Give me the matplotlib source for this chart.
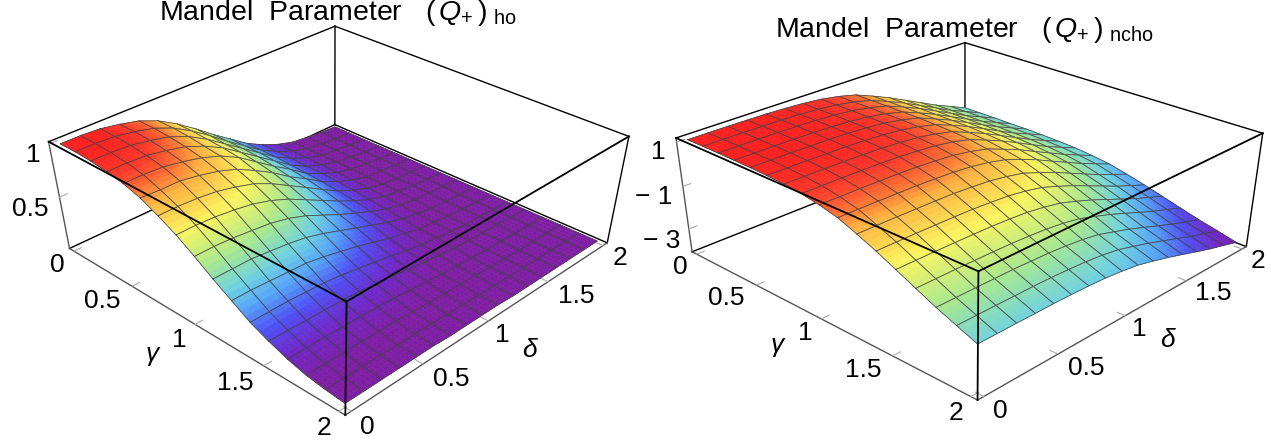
# Mandel parameter surfaces for the two oscillators
import numpy as np
import matplotlib
matplotlib.use("Agg")
import matplotlib.pyplot as plt
from matplotlib.colors import LinearSegmentedColormap

plt.rcParams['font.family'] = ['Liberation Sans', 'DejaVu Sans']
plt.rcParams['mathtext.fontset'] = 'custom'
plt.rcParams['mathtext.rm'] = 'Liberation Sans'
plt.rcParams['mathtext.it'] = 'Liberation Sans:italic'

W, H = 1271, 445

# grid nodes, same for both surfaces
gamma = [0, 0.125, 0.25, 0.375, 0.5, 0.625, 0.75, 0.875, 1, 1.125, 1.25, 1.375, 1.5, 1.625, 1.75, 1.875, 2]
delta = [0, 0.125, 0.25, 0.375, 0.5, 0.625, 0.75, 0.875, 1, 1.125, 1.25, 1.375, 1.5, 1.625, 1.75, 1.875, 2]

# rows follow gamma, columns follow delta
q_ho = [
    [1.00, 1.00, .99, .96, .92, .85, .75, .63, .50, .38, .26, .17, .10, .05, .03, .01, 0],
    [1.00, 1.00, .99, .96, .92, .85, .75, .63, .50, .38, .26, .17, .10, .05, .03, .01, 0],
    [.99, .99, .98, .95, .91, .84, .74, .62, .50, .38, .26, .17, .10, .05, .03, .01, 0],
    [.97, .97, .96, .93, .89, .82, .73, .61, .49, .37, .25, .16, .10, .05, .03, .01, 0],
    [.94, .94, .93, .90, .86, .80, .71, .59, .47, .36, .24, .16, .09, .05, .03, .01, 0],
    [.89, .88, .88, .85, .81, .75, .66, .56, .44, .34, .23, .15, .09, .04, .03, .01, 0],
    [.81, .81, .80, .78, .74, .69, .61, .51, .41, .31, .21, .14, .08, .04, .02, .01, 0],
    [.72, .72, .71, .69, .66, .61, .54, .45, .36, .27, .19, .12, .07, .04, .02, .01, 0],
    [.61, .61, .60, .58, .56, .52, .46, .38, .30, .23, .16, .10, .06, .03, .02, .01, 0],
    [.49, .49, .49, .47, .45, .42, .37, .31, .25, .19, .13, .08, .05, .02, .01, 0, 0],
    [.38, .38, .37, .36, .35, .32, .28, .24, .19, .14, .10, .06, .04, .02, .01, 0, 0],
    [.27, .27, .27, .26, .25, .23, .20, .17, .14, .10, .07, .05, .03, .01, .01, 0, 0],
    [.19, .19, .18, .18, .17, .16, .14, .12, .09, .07, .05, .03, .02, .01, .01, 0, 0],
    [.12, .12, .12, .11, .11, .10, .09, .07, .06, .04, .03, .02, .01, .01, 0, 0, 0],
    [.07, .07, .07, .07, .06, .06, .05, .04, .03, .03, .02, .01, .01, 0, 0, 0, 0],
    [.04, .04, .04, .04, .03, .03, .03, .02, .02, .01, .01, .01, 0, 0, 0, 0, 0],
    [.02, .02, .02, .02, .02, .02, .01, .01, .01, .01, 0, 0, 0, 0, 0, 0, 0],
]

q_ncho = [
    [1.10, 1.10, 1.10, 1.09, 1.08, 1.05, 1.00, .92, .78, .58, .25, -.10, -.50, -.90, -1.30, -1.65, -2.00],
    [1.10, 1.10, 1.10, 1.09, 1.08, 1.05, 1.00, .92, .78, .58, .25, -.10, -.50, -.90, -1.30, -1.65, -2.00],
    [1.10, 1.10, 1.10, 1.09, 1.08, 1.05, 1.00, .92, .78, .58, .25, -.10, -.50, -.90, -1.30, -1.65, -2.00],
    [1.09, 1.09, 1.09, 1.08, 1.07, 1.04, .99, .91, .77, .57, .24, -.11, -.51, -.91, -1.31, -1.66, -2.01],
    [1.08, 1.08, 1.08, 1.07, 1.06, 1.03, .98, .90, .76, .56, .23, -.12, -.52, -.92, -1.31, -1.66, -2.01],
    [1.05, 1.05, 1.05, 1.04, 1.03, 1.00, .95, .87, .73, .53, .21, -.14, -.54, -.94, -1.34, -1.68, -2.03],
    [1.00, 1.00, 1.00, .99, .98, .95, .90, .82, .68, .49, .16, -.19, -.58, -.98, -1.37, -1.72, -2.06],
    [.92, .92, .92, .91, .90, .87, .82, .74, .61, .41, .09, -.25, -.64, -1.04, -1.43, -1.77, -2.11],
    [.78, .78, .78, .77, .76, .73, .68, .61, .47, .28, -.04, -.37, -.76, -1.14, -1.52, -1.86, -2.20],
    [.58, .58, .58, .57, .56, .53, .49, .41, .28, .09, -.21, -.54, -.92, -1.29, -1.66, -1.99, -2.32],
    [.25, .25, .25, .24, .23, .21, .16, .09, -.04, -.21, -.51, -.82, -1.18, -1.54, -1.90, -2.21, -2.52],
    [-.10, -.10, -.10, -.11, -.12, -.14, -.19, -.25, -.37, -.54, -.82, -1.12, -1.46, -1.80, -2.14, -2.44, -2.74],
    [-.50, -.50, -.50, -.51, -.52, -.54, -.58, -.64, -.76, -.92, -1.18, -1.46, -1.78, -2.10, -2.42, -2.70, -2.98],
    [-.90, -.90, -.90, -.91, -.92, -.94, -.98, -1.04, -1.14, -1.29, -1.54, -1.80, -2.10, -2.40, -2.70, -2.96, -3.23],
    [-1.30, -1.30, -1.30, -1.31, -1.31, -1.34, -1.37, -1.43, -1.52, -1.66, -1.90, -2.14, -2.42, -2.70, -2.98, -3.23, -3.47],
    [-1.65, -1.65, -1.65, -1.66, -1.66, -1.68, -1.72, -1.77, -1.86, -1.99, -2.21, -2.44, -2.70, -2.96, -3.23, -3.45, -3.68],
    [-2.00, -2.00, -2.00, -2.01, -2.01, -2.03, -2.06, -2.11, -2.20, -2.32, -2.52, -2.74, -2.98, -3.23, -3.47, -3.68, -3.90],
]

xy_ticks = [0, 0.5, 1, 1.5, 2]
xy_tick_labels = ['0', '0.5', '1', '1.5', '2']
z_ticks_ho = [0.5, 1]
z_ticks_ncho = [-3, -1, 1]

rainbow = LinearSegmentedColormap.from_list("rainbow_q", [
    (0.00, "#7E1FA3"), (0.05, "#7E1FA3"), (0.13, "#6F28C8"), (0.22, "#4F50F5"), (0.32, "#55A4FA"),
    (0.42, "#6FD2E0"), (0.55, "#A8E890"), (0.72, "#FBF560"), (0.86, "#FFB340"),
    (0.96, "#FF3A2A"), (1.00, "#FF2020")])


def camera_matrix(ax, corners, xlim, ylim, zlim):
    """Fits the perspective camera of a panel to its 8 box corners (pixels)."""
    x0, x1 = ax.viewLim.intervalx
    y0, y1 = ax.viewLim.intervaly
    rows = []
    for ix, iy, iz, px, py in corners:
        X, Y, Z = xlim[ix], ylim[iy], zlim[iz]
        # the axes is a W x W square centred on the figure
        u = x0 + (x1 - x0) * px / W
        v = y0 + (y1 - y0) * (1 - (py + (W - H) / 2) / W)
        rows.append([X, Y, Z, 1, 0, 0, 0, 0, -u * X, -u * Y, -u * Z, -u])
        rows.append([0, 0, 0, 0, X, Y, Z, 1, -v * X, -v * Y, -v * Z, -v])
    P = np.linalg.svd(np.array(rows))[2][-1].reshape(3, 4)
    P = P / P[2].dot([1, 1, np.mean(zlim), 1])
    return np.array([P[0], P[1], P[2] - [0, 0, 0, 0.5], P[2]])


def draw_surface(ax, z, norm_lo, norm_hi):
    """Draws far cells first, each cell shaded bilinearly between its 4 nodes."""
    z = np.array(z, dtype=float)
    s = np.linspace(0, 1, 5)
    t, u = np.meshgrid(s, s, indexing='ij')
    mid_t, mid_u = np.meshgrid(s + 0.125, s + 0.125, indexing='ij')
    order = 10
    for i in range(len(gamma) - 1):
        for j in range(len(delta) - 2, -1, -1):
            def blend(a, b):
                return ((1 - a) * (1 - b) * z[i, j] + (1 - a) * b * z[i, j + 1]
                        + a * (1 - b) * z[i + 1, j] + a * b * z[i + 1, j + 1])
            gx = gamma[i] + t * (gamma[i + 1] - gamma[i])
            dy = delta[j] + u * (delta[j + 1] - delta[j])
            cols = rainbow((blend(mid_t, mid_u) - norm_lo) / (norm_hi - norm_lo))
            ax.plot_surface(gx, dy, blend(t, u), rstride=1, cstride=1, facecolors=cols,
                            shade=False, linewidth=0.4, zorder=order)
            ax.plot([gamma[i], gamma[i], gamma[i + 1], gamma[i + 1], gamma[i]],
                    [delta[j], delta[j + 1], delta[j + 1], delta[j], delta[j]],
                    [z[i, j], z[i, j + 1], z[i + 1, j + 1], z[i + 1, j], z[i, j]],
                    color='#444444', lw=0.55, zorder=order + 1)
            order += 2
    return order


def draw_box(ax, xlim, ylim, zlim, z_ticks, top):
    """Box edges behind and in front of the surface, plus the tick marks."""
    xa, xb = xlim
    ya, yb = ylim
    za, zb = zlim
    back = [((xa, ya, za), (xa, yb, za)), ((xa, yb, za), (xb, yb, za)),
            ((xa, ya, zb), (xa, yb, zb)), ((xa, yb, zb), (xb, yb, zb)),
            ((xa, yb, za), (xa, yb, zb)), ((xb, yb, za), (xb, yb, zb))]
    front = [((xa, ya, zb), (xb, ya, zb)), ((xb, ya, zb), (xb, yb, zb)),
             ((xb, ya, za), (xb, ya, zb))]
    axes_edges = [((xa, ya, za), (xa, ya, zb)), ((xa, ya, za), (xb, ya, za)),
                  ((xb, ya, za), (xb, yb, za))]
    for a, b in back:
        ax.plot(*zip(a, b), color='black', lw=1.0, zorder=1)
    for a, b in axes_edges:
        ax.plot(*zip(a, b), color='#555555', lw=1.0, zorder=2)
    for a, b in front:
        ax.plot(*zip(a, b), color='black', lw=1.3, zorder=top)
    for v in xy_ticks:
        ax.plot([v, v], [ya, ya + 0.05], [za, za], color='#aaaaaa', lw=0.8, zorder=3)
        ax.plot([xb, xb - 0.05], [v, v], [za, za], color='#aaaaaa', lw=0.8, zorder=3)
    for v in z_ticks:
        ax.plot([xa, xa], [ya, ya + 0.05], [v, v], color='#aaaaaa', lw=0.8, zorder=3)


def put(fig, px, py, text, **kw):
    kw.setdefault('fontsize', 19)
    fig.text(px / W, 1 - py / H, text, ha=kw.pop('ha', 'center'), va=kw.pop('va', 'center'), **kw)


def panel(fig, z, corners, zlim, z_ticks, clim):
    ax = fig.add_axes([0, (H - W) / 2 / H, 1, W / H], projection='3d')
    ax.set_axis_off()
    ax.patch.set_visible(False)
    ax.computed_zorder = False
    # ortho only switches off the clipping of lines; the camera comes from get_proj
    ax.set_proj_type('ortho')
    xlim = ylim = (-0.04, 2.04)
    M = camera_matrix(ax, corners, xlim, ylim, zlim)
    ax.get_proj = lambda: M
    top = draw_surface(ax, z, clim[0], clim[1])
    draw_box(ax, xlim, ylim, zlim, z_ticks, top)
    return ax


fig = plt.figure(figsize=(W / 100, H / 100), dpi=100, facecolor='white')

# (gamma index, delta index, z index, pixel x, pixel y)
corners_ho = [(0, 0, 0, 69, 248), (0, 0, 1, 49, 142), (1, 0, 0, 346, 415), (1, 0, 1, 346, 302),
              (1, 1, 0, 607, 243), (1, 1, 1, 629, 136), (0, 1, 0, 335, 125), (0, 1, 1, 335, 26)]
corners_ncho = [(0, 0, 0, 692, 252), (0, 0, 1, 676, 138), (1, 0, 0, 978, 400), (1, 0, 1, 978, 271),
                (1, 1, 0, 1246, 247), (1, 1, 1, 1263, 133), (0, 1, 0, 965, 143), (0, 1, 1, 965, 43)]

panel(fig, q_ho, corners_ho, (-0.02, 1.02), z_ticks_ho, (0, 1))
panel(fig, q_ncho, corners_ncho, (-4.11, 1.18), z_ticks_ncho, (-4.3, 1.1))

# left panel text
put(fig, 159, 20, r'Mandel  Parameter   $(\,Q_{+}\,)\;{}_{\mathrm{ho}}$', ha='left', va='baseline', fontsize=20.5)
for lab, px, py in zip(xy_tick_labels, [57, 102, 179, 235, 324], [265, 301, 340, 383, 428]):
    put(fig, px, py, lab)
for lab, px, py in zip(xy_tick_labels, [367, 451, 502, 576, 620], [427, 379, 335, 296, 258]):
    put(fig, px, py, lab)
put(fig, 33, 155, '1')
put(fig, 30, 209, '0.5')
put(fig, 152, 354, 'γ', style='italic')
put(fig, 529, 350, 'δ', style='italic')

# right panel text
put(fig, 775, 37, r'Mandel  Parameter   $(\,Q_{+}\,)\;{}_{\mathrm{ncho}}$', ha='left', va='baseline', fontsize=20.5)
for lab, px, py in zip(xy_tick_labels, [680, 726, 805, 863, 956], [267, 298, 333, 370, 413]):
    put(fig, px, py, lab)
for lab, px, py in zip(xy_tick_labels, [1000, 1086, 1139, 1213, 1258], [411, 368, 329, 293, 261]):
    put(fig, px, py, lab)
put(fig, 658, 152, '1')
put(fig, 654, 197, '− 1')
put(fig, 662, 241, '− 3')
put(fig, 777, 345, 'γ', style='italic')
put(fig, 1167, 340, 'δ', style='italic')

fig.savefig('out.png', dpi=100)
